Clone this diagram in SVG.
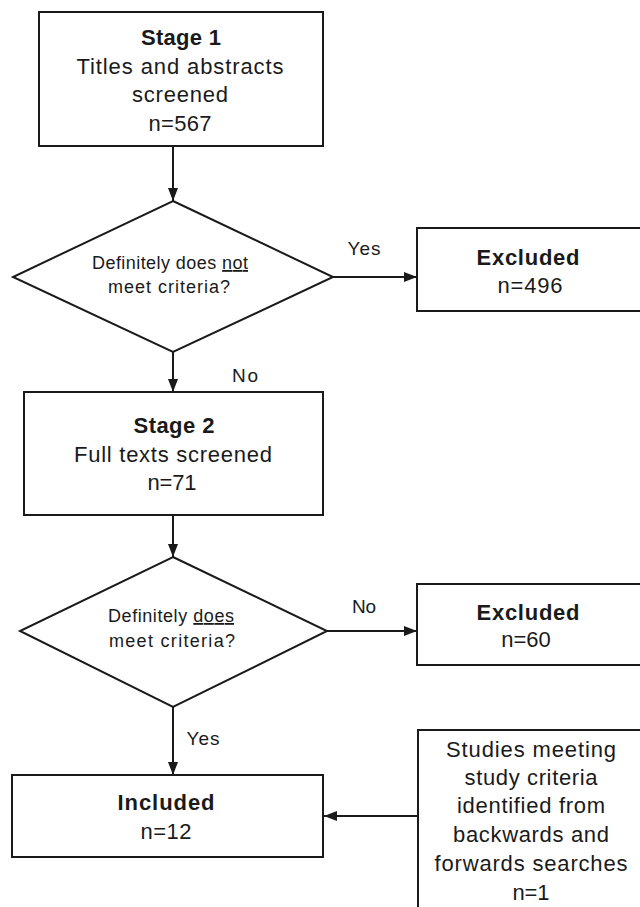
<svg xmlns="http://www.w3.org/2000/svg" width="640" height="907" viewBox="0 0 640 907">
<style>
.box{fill:#fff;stroke:#1a1a1a;stroke-width:2}
.conn{fill:none;stroke:#1a1a1a;stroke-width:2}
text{font-family:"Liberation Sans",Arial,sans-serif;fill:#1a1a1a;text-anchor:middle}
.b{font-weight:bold;font-size:22px}
.r{font-size:22px}
.d{font-size:18px}
.l{font-size:19px}
</style>
<defs>
<marker id="ah" markerUnits="userSpaceOnUse" markerWidth="13" markerHeight="10" refX="13" refY="5" orient="auto">
<path d="M0,0 L13,5 L0,10 z" fill="#1a1a1a"/>
</marker>
</defs>
<rect width="640" height="907" fill="#fff"/>
<g id="connectors">
<line class="conn" x1="173" y1="146" x2="173" y2="201" marker-end="url(#ah)"/>
<line class="conn" x1="173" y1="352" x2="173" y2="392" marker-end="url(#ah)"/>
<line class="conn" x1="173" y1="515" x2="173" y2="557" marker-end="url(#ah)"/>
<line class="conn" x1="173" y1="707" x2="173" y2="775" marker-end="url(#ah)"/>
<line class="conn" x1="333" y1="277" x2="417" y2="277" marker-end="url(#ah)"/>
<line class="conn" x1="327" y1="631" x2="417" y2="631" marker-end="url(#ah)"/>
<line class="conn" x1="418" y1="816" x2="324" y2="816" marker-end="url(#ah)"/>
<text class="l" x="364" y="255" textLength="33">Yes</text>
<text class="l" x="245" y="382" textLength="26">No</text>
<text class="l" x="364" y="613" textLength="24">No</text>
<text class="l" x="203" y="745" textLength="33">Yes</text>
</g>
<g id="stage1">
<rect class="box" x="39" y="12" width="284" height="134"/>
<text class="b" x="181" y="45" textLength="80">Stage 1</text>
<text class="r" x="180" y="74" textLength="207">Titles and abstracts</text>
<text class="r" x="180" y="102" textLength="96">screened</text>
<text class="r" x="180" y="131" textLength="63">n=567</text>
</g>
<g id="decision1">
<polygon class="box" points="173,201 333,277 173,352 13,277"/>
<text class="d" x="170" y="269" textLength="156">Definitely does <tspan text-decoration="underline">not</tspan></text>
<text class="d" x="169" y="293" textLength="122">meet criteria?</text>
</g>
<g id="excluded1">
<rect class="box" x="417" y="228" width="230" height="83"/>
<text class="b" x="528" y="265" textLength="103">Excluded</text>
<text class="r" x="530" y="293" textLength="65">n=496</text>
</g>
<g id="stage2">
<rect class="box" x="24" y="392" width="299" height="123"/>
<text class="b" x="174" y="433" textLength="81">Stage 2</text>
<text class="r" x="173" y="462" textLength="198">Full texts screened</text>
<text class="r" x="172" y="490" textLength="49">n=71</text>
</g>
<g id="decision2">
<polygon class="box" points="173,557 327,631 173,707 20,631"/>
<text class="d" x="171" y="622" textLength="126">Definitely <tspan text-decoration="underline">does</tspan></text>
<text class="d" x="172" y="647" textLength="126">meet criteria?</text>
</g>
<g id="excluded2">
<rect class="box" x="417" y="584" width="230" height="81"/>
<text class="b" x="528" y="620" textLength="103">Excluded</text>
<text class="r" x="526" y="647">n=60</text>
</g>
<g id="included">
<rect class="box" x="12" y="775" width="311" height="82"/>
<text class="b" x="166" y="810" textLength="97">Included</text>
<text class="r" x="166" y="839" textLength="51">n=12</text>
</g>
<g id="additional">
<rect class="box" x="418" y="730" width="240" height="200"/>
<text class="r" x="531" y="757" textLength="170">Studies meeting</text>
<text class="r" x="531" y="785" textLength="133">study criteria</text>
<text class="r" x="531" y="813" textLength="148">identified from</text>
<text class="r" x="531" y="842" textLength="156">backwards and</text>
<text class="r" x="531" y="871" textLength="193">forwards searches</text>
<text class="r" x="531" y="900" textLength="37">n=1</text>
</g>
</svg>
